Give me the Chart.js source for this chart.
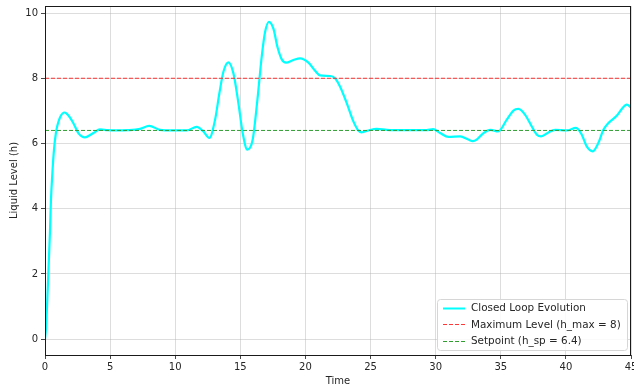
<!DOCTYPE html>
<html>
<head>
<meta charset="utf-8">
<script src="https://cdn.jsdelivr.net/npm/chart.js@4/dist/chart.umd.min.js"></script>
<style>
  html, body { margin: 0; padding: 0; background: #ffffff; }
  #wrap { width: 634px; height: 387px; }
</style>
</head>
<body>
<div id="wrap"><canvas id="c" width="634" height="387"></canvas></div>
<script>
// Closed-loop tank level response
const timeValues = [0, 0.08, 0.18, 0.28, 0.38, 0.46, 0.56, 0.69, 0.84, 0.95, 1.15, 1.5, 1.8, 2.17, 2.56, 3.07,
  3.71, 4.22, 4.8, 5.4, 6.4, 7.3, 8.0, 8.83, 9.85, 10.88, 11.65, 12.16, 12.62, 13.06, 13.39, 13.7, 14.08,
  14.47, 14.85, 15.18, 15.54, 15.95, 16.31, 16.64, 16.9, 17.2, 17.54, 17.85, 18.18, 18.51, 19.07, 19.59,
  20.23, 20.74, 21.12, 21.89, 22.27, 22.66, 23.17, 23.68, 24.06, 24.32, 24.83, 25.48, 26.25, 27.5, 28.5,
  29.3, 29.8, 30.34, 30.98, 31.88, 32.51, 32.85, 33.15, 33.67, 34.2, 34.8, 35.46, 35.97, 36.35, 36.87,
  37.38, 37.77, 38.1, 38.66, 39.17, 40.07, 40.78, 41.22, 41.6, 42.06, 42.5, 42.88, 43.27, 43.9, 44.42,
  44.68, 45.0];
const levelValues = [0, 0.35, 1.25, 2.26, 3.28, 4.29, 5.05, 5.81, 6.33, 6.55, 6.8, 6.95, 6.86, 6.63, 6.32, 6.19,
  6.32, 6.43, 6.41, 6.40, 6.41, 6.45, 6.54, 6.42, 6.40, 6.40, 6.51, 6.37, 6.17, 6.73, 7.54, 8.2, 8.49,
  8.15, 7.24, 6.32, 5.81, 6.12, 7.34, 8.66, 9.42, 9.73, 9.52, 8.96, 8.58, 8.48, 8.56, 8.61,
  8.48, 8.23, 8.09, 8.07, 8.0, 7.74, 7.24, 6.68, 6.40, 6.34, 6.40, 6.45, 6.42, 6.41, 6.41,
  6.41, 6.44, 6.32, 6.2, 6.22, 6.12, 6.07, 6.12, 6.32, 6.42, 6.37, 6.73, 7.01, 7.06, 6.88,
  6.52, 6.27, 6.22, 6.34, 6.42, 6.40, 6.48, 6.27, 5.91, 5.76, 6.02, 6.42, 6.63, 6.85, 7.12,
  7.19, 7.1];

const hMax = 8;
const hSetpoint = 6.4;
const xTickValues = [0, 5, 10, 15, 20, 25, 30, 35, 40, 45];
const yTickValues = [0, 2, 4, 6, 8, 10];
const seriesNames = ['Closed Loop Evolution', 'Maximum Level (h_max = 8)', 'Setpoint (h_sp = 6.4)'];
const xTitle = 'Time';
const yTitle = 'Liquid Level (h)';

const seriesColors = ['#00ffff', 'rgba(255,20,20,0.85)', '#2f9e2f'];

// y limits with a 5% margin around the data, x limited to the time span
const dataMin = Math.min(0, ...levelValues);
const dataMax = Math.max(...levelValues);
const marginY = (dataMax - dataMin) * 0.05;

const curve = timeValues.map((t, i) => ({ x: t, y: levelValues[i] }));
const tEnd = timeValues[timeValues.length - 1];

const FONT = 'DejaVu Sans';
const TXT = '#262626';

// frame around the plot area
const framePlugin = {
  id: 'frame',
  afterDatasetsDraw(chart) {
    const { ctx, chartArea: a } = chart;
    ctx.save();
    ctx.strokeStyle = '#1a1a1a';
    ctx.lineWidth = 1;
    ctx.strokeRect(Math.round(a.left) + 0.5, Math.round(a.top) + 0.5,
      Math.round(a.right - a.left) - 1, Math.round(a.bottom - a.top));
    ctx.restore();
  }
};

// legend box in the lower right corner of the plot
const legendPlugin = {
  id: 'cornerLegend',
  afterDraw(chart) {
    const { ctx, chartArea: a } = chart;
    const w = 190, h = 51;
    const x0 = a.right - 4 - w, y0 = a.bottom - 5 - h;
    ctx.save();
    ctx.fillStyle = 'rgba(255,255,255,0.85)';
    ctx.strokeStyle = '#d6d6d6';
    ctx.lineWidth = 1;
    ctx.beginPath();
    if (ctx.roundRect) ctx.roundRect(x0 + 0.5, y0 + 0.5, w, h, 3); else ctx.rect(x0 + 0.5, y0 + 0.5, w, h);
    ctx.fill();
    ctx.stroke();
    const rows = [
      { dash: [], width: 2 },
      { dash: [4, 2], width: 1.2 },
      { dash: [4, 2], width: 1.2 }
    ];
    ctx.font = '10.4px "' + FONT + '"';
    ctx.textBaseline = 'middle';
    rows.forEach((r, i) => {
      const yy = y0 + 9 + i * 16.3;
      ctx.strokeStyle = seriesColors[i];
      ctx.lineWidth = r.width;
      ctx.setLineDash(r.dash);
      ctx.beginPath();
      ctx.moveTo(x0 + 6, Math.round(yy) + 0.5);
      ctx.lineTo(x0 + 28, Math.round(yy) + 0.5);
      ctx.stroke();
      ctx.setLineDash([]);
      ctx.fillStyle = TXT;
      ctx.fillText(seriesNames[i], x0 + 34, yy + 0.5);
    });
    ctx.restore();
  }
};

new Chart(document.getElementById('c'), {
  type: 'line',
  data: {
    datasets: [
      {
        label: seriesNames[0],
        data: curve,
        borderColor: seriesColors[0],
        borderWidth: 2.2,
        pointRadius: 0,
        fill: false,
        cubicInterpolationMode: 'monotone',
        order: 3
      },
      {
        label: seriesNames[1],
        data: [{ x: 0, y: hMax }, { x: tEnd, y: hMax }],
        borderColor: seriesColors[1],
        borderWidth: 1,
        borderDash: [4, 2],
        pointRadius: 0,
        fill: false,
        order: 2
      },
      {
        label: seriesNames[2],
        data: [{ x: 0, y: hSetpoint }, { x: tEnd, y: hSetpoint }],
        borderColor: seriesColors[2],
        borderWidth: 1,
        borderDash: [4, 2],
        pointRadius: 0,
        fill: false,
        order: 1
      }
    ]
  },
  options: {
    responsive: false,
    animation: false,
    devicePixelRatio: 1,
    layout: { padding: { top: 6, right: 3, left: 0, bottom: 0 } },
    plugins: { legend: { display: false }, tooltip: { enabled: false } },
    scales: {
      x: {
        type: 'linear',
        min: 0,
        max: tEnd,
        afterBuildTicks(s) { s.ticks = xTickValues.map(v => ({ value: v })); },
        afterFit(s) { s.height = 32; s.paddingLeft = 0; s.paddingRight = 0; },
        grid: { color: 'rgba(176,176,176,0.55)', lineWidth: 0.8, tickColor: '#1a1a1a', tickLength: 4, drawTicks: true },
        border: { display: false },
        ticks: { font: { family: FONT, size: 10 }, color: TXT, padding: 2, maxRotation: 0, autoSkip: false },
        title: { display: true, text: xTitle, font: { family: FONT, size: 10 }, color: TXT, padding: { top: 0, bottom: 0 } }
      },
      y: {
        type: 'linear',
        min: dataMin - marginY,
        max: dataMax + marginY,
        afterBuildTicks(s) { s.ticks = yTickValues.map(v => ({ value: v })); },
        afterFit(s) { s.width = 45; s.paddingTop = 0; s.paddingBottom = 0; },
        grid: { color: 'rgba(176,176,176,0.55)', lineWidth: 0.8, tickColor: '#1a1a1a', tickLength: 4, drawTicks: true },
        border: { display: false },
        ticks: { font: { family: FONT, size: 10 }, color: TXT, padding: 3, autoSkip: false },
        title: { display: true, text: yTitle, font: { family: FONT, size: 10 }, color: TXT, padding: { top: 8, bottom: 0 } }
      }
    }
  },
  plugins: [framePlugin, legendPlugin]
});
</script>
</body>
</html>
